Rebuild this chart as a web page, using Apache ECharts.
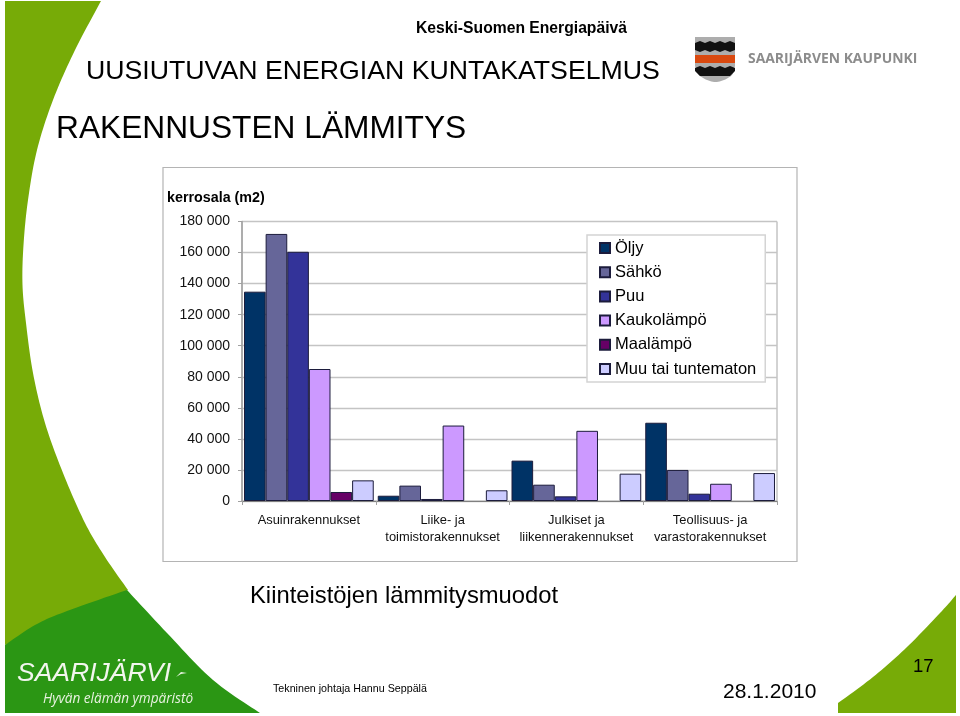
<!DOCTYPE html>
<html><head><meta charset="utf-8">
<style>html,body{margin:0;padding:0;background:#fff}#c{width:960px;height:716px}</style>
<script src="https://cdn.jsdelivr.net/npm/echarts@6/dist/echarts.min.js"></script>
</head><body><div id="c"></div>
<script>
const categories = ['Asuinrakennukset','Liike- ja\ntoimistorakennukset','Julkiset ja\nliikennerakennukset','Teollisuus- ja\nvarastorakennukset'];
const oljy = [134800,3400,26000,50400];
const sahko = [172000,9900,10500,20000];
const puu = [160500,1300,3000,4700];
const kaukolampo = [85000,48600,45200,11100];
const maalampo = [5800,null,null,null];
const muu = [13300,6900,17600,18000];
const seriesNames = ['Öljy','Sähkö','Puu','Kaukolämpö','Maalämpö','Muu tai tuntematon'];
const seriesColors = ['#003366','#666699','#333399','#CC99FF','#660066','#CCCCFF'];
const seriesValues = [oljy,sahko,puu,kaukolampo,maalampo,muu];
const F = '"Liberation Sans", Arial, sans-serif';
const chart = echarts.init(document.getElementById('c'),null,{renderer:'canvas'});
function t(x,y,text,size,extra){return {type:'text',x:x,y:y,z:20,style:Object.assign({text:text,font:size+'px '+F,fill:'#000',verticalAlign:'middle'},extra||{})};}
function spline(p){const o=[];for(let i=0;i<p.length-1;i++){const a=p[Math.max(i-1,0)],b=p[i],c=p[i+1],d=p[Math.min(i+2,p.length-1)];
  for(let k=0;k<12;k++){const s=k/12,s2=s*s,s3=s2*s;o.push([0,1].map(j=>.5*(2*b[j]+(c[j]-a[j])*s+(2*a[j]-5*b[j]+4*c[j]-d[j])*s2+(3*b[j]-a[j]-3*c[j]+d[j])*s3)));}}
  o.push(p[p.length-1]);return o;}
function poly(points,fill){return {type:'polygon',z:1,shape:{points:points},style:{fill:fill}};}
const LIGHT='#77AB07', DARK='#2B9614';
const edgeLeft=[[101,1],[75,50],[53,100],[37,150],[28,200],[23.5,245],[22.5,285],[26,323],[33,373],[45,423],[63,473],[85,523],[105,557],[128,590]];
const darkTop=[[5,645],[35,625],[67,611],[127,590]];
const darkEdge=[[127,590],[167,633],[213,680],[260,713]];
const rightEdge=[[956,595],[940,613],[907,647],[873,677],[838,703]];
chart.setOption({
  animation:false,
  backgroundColor:'#fff',
  grid:{left:242,right:183,top:221.5,bottom:215,containLabel:false,show:true,borderColor:'#a6a6a6',borderWidth:1,backgroundColor:'transparent'},
  legend:{orient:'vertical',left:587,top:235,icon:'rect',itemWidth:10,itemHeight:10,itemGap:6.2,padding:[4,9,4,12],
    backgroundColor:'#fff',borderColor:'#d4d4d4',borderWidth:1.5,data:seriesNames,
    textStyle:{fontFamily:F,fontSize:16.5,color:'#000',lineHeight:17,padding:[1,0,0,0]}},
  xAxis:{type:'category',data:categories,
    axisLine:{lineStyle:{color:'#808080',width:1}},
    axisTick:{show:true,length:4,lineStyle:{color:'#a0a0a0'}},
    axisLabel:{fontFamily:F,fontSize:12.9,color:'#111',lineHeight:17.5,margin:10.5,interval:0}},
  yAxis:{type:'value',min:0,max:180000,interval:20000,
    axisLine:{show:true,lineStyle:{color:'#a0a0a0',width:1.5}},
    axisTick:{show:true,length:4,lineStyle:{color:'#a0a0a0'}},
    splitLine:{lineStyle:{color:'#c4c4c4',width:1.3}},
    axisLabel:{fontFamily:F,fontSize:14,color:'#111',margin:12,padding:[2,0,0,0],
      formatter:v=>String(v).replace(/\B(?=(\d{3})+$)/g,' ')}},
  series:seriesNames.map((n,i)=>({name:n,type:'bar',data:seriesValues[i],barGap:0,barCategoryGap:'3%',
    itemStyle:{color:seriesColors[i],borderColor:'#1c1c3c',borderWidth:1}})),
  graphic:[
    poly(spline(edgeLeft).concat([[5,645],[5,1]]),LIGHT),
    poly(spline(darkTop).concat(spline(darkEdge)).concat([[5,713]]),DARK),
    poly(spline(rightEdge).concat([[838,713],[956,713]]),LIGHT),
    {type:'rect',z:1,shape:{x:163,y:167.5,width:634,height:394},style:{fill:'transparent',stroke:'#b4b4b4',lineWidth:1.2}},
    t(86,72,'UUSIUTUVAN ENERGIAN KUNTAKATSELMUS',26.7),
    t(56,129,'RAKENNUSTEN LÄMMITYS',31.7),
    t(416,29,'Keski-Suomen Energiapäivä',15.7,{font:'bold 15.7px '+F}),
    t(167,198,'kerrosala (m2)',14.3,{font:'bold 14.3px '+F}),
    t(250,596,'Kiinteistöjen lämmitysmuodot',23.8),
    t(273,689.5,'Tekninen johtaja Hannu Seppälä',10.7),
    t(723,692,'28.1.2010',21),
    t(913,667,'17',18.5),
    t(17,674,'SAARIJÄRVI',26.5,{font:'italic 26.5px '+F,fill:'#f2f6ee'}),
    t(43,699,'Hyvän elämän ympäristö',13.6,{font:'italic 13.6px "Open Sans", '+F,fill:'#e8f2e0'}),
    {type:'polygon',z:20,shape:{points:[[176,677],[181,672],[187,673],[181,674]]},style:{fill:'#e8f2e0'}},
    {type:'polygon',z:20,shape:{points:spline([[695,66],[700,76],[715.5,82],[731,76],[735,66]]).concat([[735,37],[695,37]])},style:{fill:'#adadad'}},
    {type:'polygon',z:20,shape:{points:[[695,43],[700,41],[705,43],[710,41],[715,43],[720,41],[725,43],[730,41],[735,43],[735,50],[730,52],[725,50],[720,52],[715,50],[710,52],[705,50],[700,52],[695,50]]},style:{fill:'#111'}},
    {type:'rect',z:20,shape:{x:695,y:55,width:40,height:8},style:{fill:'#D9490F'}},
    {type:'polygon',z:20,shape:{points:[[695,68],[700,66],[705,68],[710,66],[715,68],[720,66],[725,68],[730,66],[735,68],[735,71],[730,76],[700,76],[695,71]]},style:{fill:'#111'}},
    t(748,59,'SAARIJÄRVEN KAUPUNKI',13.9,{font:'bold 13.9px "Open Sans", '+F,fill:'#8c8c8c'})
  ]
});
</script></body></html>
